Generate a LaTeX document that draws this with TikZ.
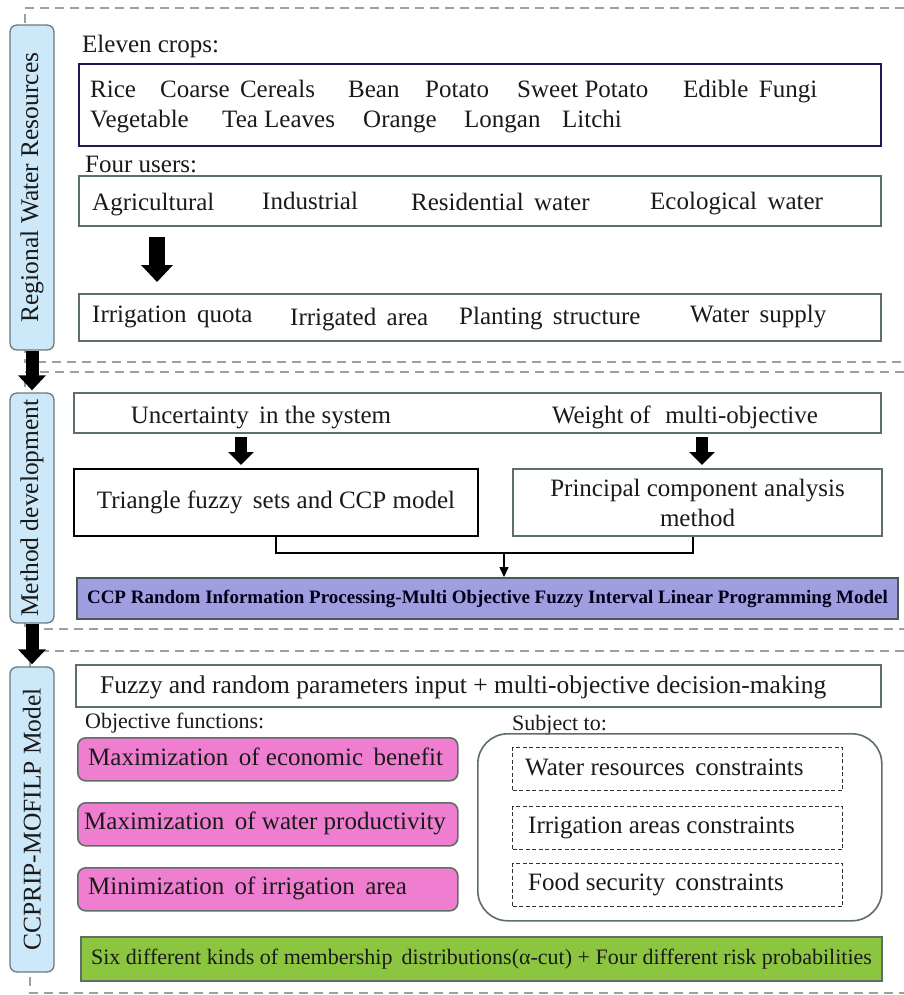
\documentclass[tikz,border=0pt]{standalone}
\usepackage{fontspec}
\setmainfont{Liberation Serif}
\usetikzlibrary{arrows.meta,calc}
\definecolor{labelblue}{HTML}{CDE8F8}
\definecolor{labelborder}{HTML}{6A7A80}
\definecolor{boxgray}{HTML}{5E6E68}
\definecolor{navy}{HTML}{1C1C52}
\definecolor{purplefill}{HTML}{9E9EE0}
\definecolor{pinkfill}{HTML}{F07ED0}
\definecolor{greenfill}{HTML}{8CC540}
\definecolor{ink}{HTML}{1A1A1A}
\newcommand\mainfs{\fontsize{25}{30}\selectfont}
\newcommand\smallfs{\fontsize{22}{26}\selectfont}
\begin{document}
\begin{tikzpicture}[x=1pt,y=-1pt,
  txt/.style={anchor=base west, inner sep=0pt, font=\mainfs, text=ink},
  lbl/.style={anchor=base west, inner sep=0pt, font=\smallfs, text=ink},
  frame/.style={draw=gray!75, line width=1.6pt, dash pattern=on 9pt off 6pt},
  sidebox/.style={draw=labelborder, fill=labelblue, rounded corners=7pt, line width=1.3pt, rotate=90, font=\fontsize{25.5}{30}\selectfont, text=ink, minimum height=44, inner sep=0pt},
  plainbox/.style={draw=boxgray, line width=2pt, anchor=north west, inner sep=0pt, font=\mainfs, text=ink},
  fatarrow/.style={draw=black, line width=13pt, -{Triangle[width=27pt,length=15pt]}},
  bigarrow/.style={draw=black, line width=16pt, -{Triangle[width=31pt,length=17pt]}},
  midarrow/.style={draw=black, line width=12pt, -{Triangle[width=25pt,length=13pt]}},
  pinkbox/.style={draw=boxgray, fill=pinkfill, line width=1.6pt, rounded corners=8pt, anchor=north west, minimum width=380, minimum height=43},
  cbox/.style={draw=black!80, line width=1.3pt, dash pattern=on 4pt off 2.5pt, anchor=north west, minimum width=330, minimum height=43}
]
\useasboundingbox (0,0) rectangle (904,995);
\fill[white] (0,0) rectangle (904,995);

% section frames
\draw[frame] (904,8) -- (25,8) -- (25,362) -- (904,362);
\draw[frame] (904,372) -- (25,372) -- (25,629) -- (904,629);
\draw[frame] (904,651) -- (30,651) -- (30,993) -- (904,993);

% side labels
\node[sidebox, minimum width=325] (s1) at (32,187.5) {Regional Water Resources};
\node[sidebox, minimum width=230] (s2) at (32,508) {Method development};
\node[sidebox, minimum width=305] (s3) at (32,819.5) {CCPRIP-MOFILP Model};
\draw[fatarrow, shorten >=2pt] (s1.west) -- (s2.east);
\draw[fatarrow, shorten >=2pt] (s2.west) -- (s3.east);

% ---- Regional water resources
\node[txt] (t1) at (82,53) {Eleven crops:};
\node[plainbox, draw=navy, minimum width=802, minimum height=82] (crops) at (78,63) {};
\node[txt] (c1) at (90,98) {Rice};
\node[txt] (c2) at (160,98) {Coarse\, Cereals};
\node[txt] (c3) at (348,98) {Bean};
\node[txt] (c4) at (425,98) {Potato};
\node[txt] (c5) at (517,98) {Sweet Potato};
\node[txt] (c6) at (683,98) {Edible\, Fungi};
\node[txt] (c7) at (90,128) {Vegetable};
\node[txt] (c8) at (222,128) {Tea Leaves};
\node[txt] (c9) at (363,128) {Orange};
\node[txt] (c10) at (464,128) {Longan};
\node[txt] (c11) at (562,128) {Litchi};

\node[txt] (t2) at (85,172) {Four users:};
\node[plainbox, minimum width=802, minimum height=50] (users) at (78,175) {};
\node[txt] (u1) at (92,211) {Agricultural};
\node[txt] (u2) at (262,209) {Industrial};
\node[txt] (u3) at (411,210) {Residential\, water};
\node[txt] (u4) at (650,209) {Ecological\, water};

\node[plainbox, minimum width=802, minimum height=47] (irr) at (78,293) {};
\node[txt] (i1) at (92,322) {Irrigation\, quota};
\node[txt] (i2) at (290,325) {Irrigated\, area};
\node[txt] (i3) at (459,324) {Planting\, structure};
\node[txt] (i4) at (690,322) {Water\, supply};
\coordinate (ax) at (157,0);
\draw[bigarrow, shorten <=10pt, shorten >=11pt] (users.south -| ax) -- (irr.north -| ax);

% ---- Method development
\node[plainbox, minimum width=807, minimum height=40] (unc) at (73,392) {};
\node[txt, anchor=base] (u5) at (261,423) {Uncertainty\, in the system};
\node[txt, anchor=base] (u6) at (685,423) {Weight of\,\, multi-objective};
\node[plainbox, draw=black, minimum width=404, minimum height=67] (tri) at (73,468) {Triangle fuzzy\, sets and CCP model};
\node[plainbox, minimum width=369, minimum height=67, align=center] (pca) at (512,468) {Principal component analysis\\method};
\coordinate (ux1) at (241,0);
\coordinate (ux2) at (702,0);
\draw[midarrow, shorten <=3pt, shorten >=3pt] (unc.south -| ux1) -- (tri.north -| ux1);
\draw[midarrow, shorten <=3pt, shorten >=3pt] (unc.south -| ux2) -- (pca.north -| ux2);
\node[plainbox, draw=boxgray!80!black, fill=purplefill, minimum width=821, minimum height=41, font=\fontsize{19}{22}\bfseries, text=black!90!blue] (ccp) at (76,577) {CCP Random Information Processing-Multi Objective Fuzzy Interval Linear Programming Model};
\coordinate (j1) at (276,0);
\coordinate (j2) at (693,0);
\coordinate (jn) at (504,553);
\draw[line width=2pt, line join=miter] (tri.south -| j1) |- (jn) -| (pca.south -| j2);
\draw[line width=1.5pt, -{Triangle[width=9pt,length=10pt]}] (jn) -- (jn |- ccp.north);

% ---- Model
\node[plainbox, minimum width=805, minimum height=42] (fz) at (75,664) {};
\node[txt, font=\fontsize{25.5}{30}\selectfont] (fzt) at (100,693) {Fuzzy and random parameters input + multi-objective decision-making};
\node[lbl] (ob) at (85,728) {Objective functions:};
\node[pinkbox] (p1) at (77,737) {};
\node[txt] at (88,765) {Maximization\, of economic\, benefit};
\node[pinkbox] (p2) at (77,802) {};
\node[txt] at (84,829) {Maximization\, of water productivity};
\node[pinkbox] (p3) at (77,867) {};
\node[txt] at (88,894) {Minimization\, of irrigation\, area};

\node[lbl] (sb) at (512,730) {Subject to:};
\node[draw=boxgray, line width=1.6pt, rounded corners=30pt, anchor=north west, minimum width=404, minimum height=187] (st) at (477,733) {};
\node[cbox] (k1) at (512,747) {};
\node[txt] at (525,775) {Water resources\, constraints};
\node[cbox] (k2) at (512,806) {};
\node[txt] at (528,833) {Irrigation areas constraints};
\node[cbox] (k3) at (512,863) {};
\node[txt] at (528,890) {Food security\, constraints};

\node[plainbox, fill=greenfill, minimum width=801, minimum height=44, font=\fontsize{22}{26}\selectfont] (gr) at (80,936) {Six different kinds of membership\, distributions(α-cut) + Four different risk probabilities};
\end{tikzpicture}
\end{document}
